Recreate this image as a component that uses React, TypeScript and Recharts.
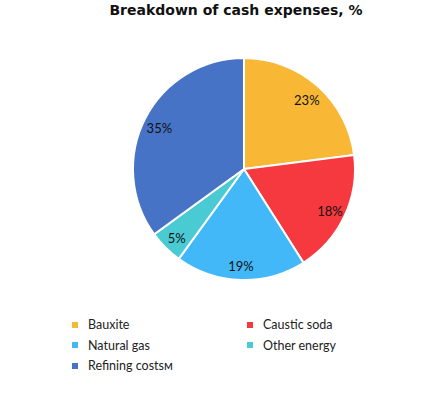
import React from 'react';
import { PieChart, Pie, Cell, Legend } from 'recharts';

const categories = ['Bauxite', 'Caustic soda', 'Natural gas', 'Other energy', 'Refining costsм'];
const shares = [23, 18, 19, 5, 35];
const COLORS = ['#F8B835', '#F6383F', '#42B8F8', '#4ACBD4', '#4673C6'];

const data = categories.map((name, i) => ({ name, value: shares[i], color: COLORS[i] }));

const FONT = 'Lato, "Open Sans", sans-serif';
const RADIAN = Math.PI / 180;

const renderLabel = (props: any) => {
  const { cx, cy, midAngle, value } = props;
  const r = 95;
  const x = cx + r * Math.cos(-midAngle * RADIAN);
  const y = cy + r * Math.sin(-midAngle * RADIAN) + 2;
  return (
    <text x={x} y={y} fill="#111" fontSize={13} fontFamily={FONT} textAnchor="middle" dominantBaseline="central">
      {`${value}%`}
    </text>
  );
};

const LegendContent = () => (
  <div style={{ display: 'grid', gridTemplateColumns: '175px 150px', rowGap: 3.5, fontFamily: FONT, fontSize: 12.5, color: '#222' }}>
    {data.map((d) => (
      <div key={d.name} style={{ display: 'flex', alignItems: 'center', height: 17 }}>
        <span style={{ width: 6, height: 6, background: d.color, marginRight: 10, display: 'inline-block' }} />
        {d.name}
      </div>
    ))}
  </div>
);

const App: React.FC = () => (
  <div style={{ position: 'absolute', left: 0, top: 0, width: 436, height: 395, background: '#fff' }}>
    <div style={{ position: 'absolute', top: 0, left: 0, width: 472, textAlign: 'center', fontFamily: '"DejaVu Sans", sans-serif', fontWeight: 700, fontSize: 14, lineHeight: '20px', color: '#111' }}>
      Breakdown of cash expenses, %
    </div>
    <PieChart width={436} height={395} margin={{ top: 0, right: 0, bottom: 0, left: 0 }}>
      <Pie
        data={data}
        dataKey="value"
        cx={244}
        cy={169}
        outerRadius={111}
        startAngle={90}
        endAngle={-270}
        stroke="#fff"
        strokeWidth={2}
        labelLine={false}
        label={renderLabel}
        isAnimationActive={false}
      >
        {data.map((entry, index) => (
          <Cell key={`cell-${index}`} fill={entry.color} />
        ))}
      </Pie>
      <Legend content={<LegendContent />} wrapperStyle={{ left: 72, top: 316, width: 340 }} />
    </PieChart>
  </div>
);

export default App;
